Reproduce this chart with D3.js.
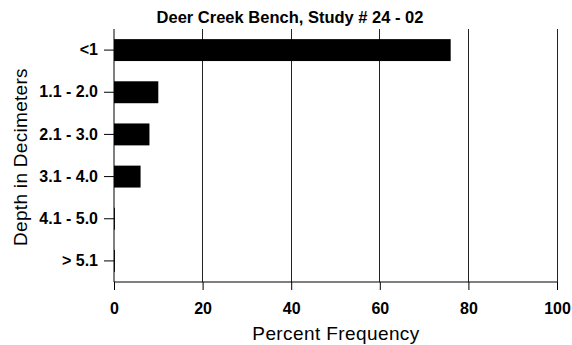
<!DOCTYPE html>
<html><head><meta charset="utf-8">
<script src="https://cdn.jsdelivr.net/npm/d3@7"></script>
<style>body{margin:0;background:#fff}svg{display:block;font-family:Arial,"Liberation Sans",Helvetica,sans-serif}</style>
</head><body>
<script>
const categories = ["<1", "1.1 - 2.0", "2.1 - 3.0", "3.1 - 4.0", "4.1 - 5.0", "> 5.1"];
const values = [76, 10, 8, 6, 0.2, 0.2];
const xTicks = [0, 20, 40, 60, 80, 100];
const title = "Deer Creek Bench, Study # 24 - 02";
const xTitle = "Percent Frequency";
const yTitle = "Depth in Decimeters";

const W = 572, H = 345;
const m = {left:114, right:15, top:29, bottom:63};
const svg = d3.select("body").append("svg").attr("width", W).attr("height", H);
const x = d3.scaleLinear().domain([0,100]).range([m.left, W - m.right]);
const y = d3.scaleBand().domain(categories).range([m.top, H - m.bottom]).paddingInner(0.48).paddingOuter(0.24);
const y0 = H - m.bottom;
const FF = "Arial, Liberation Sans, sans-serif";

// gridlines
svg.append("g").selectAll("line").data(xTicks.slice(1)).join("line")
  .attr("x1", d => x(d)).attr("x2", d => x(d)).attr("y1", m.top).attr("y2", y0)
  .attr("stroke", "#222").attr("stroke-width", 1).attr("shape-rendering","crispEdges");

// bars
svg.append("g").selectAll("rect").data(categories).join("rect")
  .attr("x", x(0)).attr("y", d => y(d))
  .attr("width", (d,i) => x(values[i]) - x(0)).attr("height", y.bandwidth())
  .attr("fill", "#000");

// x axis
const xa = svg.append("g").attr("transform", `translate(0,${y0})`)
  .call(d3.axisBottom(x).tickValues(xTicks).tickSize(8).tickFormat(d3.format("d")));
xa.select(".domain").attr("d", `M${x(0)},0H${x(100)}`).attr("stroke","#000");
xa.selectAll("line").attr("stroke","#000");
xa.selectAll("text").attr("y", 32).attr("dy", 0).attr("font-size", 16).attr("font-weight","bold").attr("fill","#000").attr("font-family", FF);

// y axis
const ya = svg.append("g").attr("transform", `translate(${m.left},0)`)
  .call(d3.axisLeft(y).tickSize(10).tickPadding(6));
ya.select(".domain").attr("d", `M0,${m.top}V${y0}`).attr("stroke","#000");
ya.selectAll("line").attr("stroke","#000");
ya.selectAll("text").attr("font-size", 16).attr("font-weight","bold").attr("fill","#000").attr("font-family", FF);

// titles
svg.append("text").attr("x", 290).attr("y", 23).attr("text-anchor","middle")
  .attr("font-size", 16.5).attr("font-weight","bold").text(title);
svg.append("text").attr("x", 336).attr("y", 340).attr("text-anchor","middle")
  .attr("font-size", 19).attr("letter-spacing", 0.4).text(xTitle);
svg.append("text").attr("transform", `translate(27,157) rotate(-90)`).attr("text-anchor","middle")
  .attr("font-size", 19).attr("letter-spacing", 0.3).text(yTitle);
</script>
</body></html>
